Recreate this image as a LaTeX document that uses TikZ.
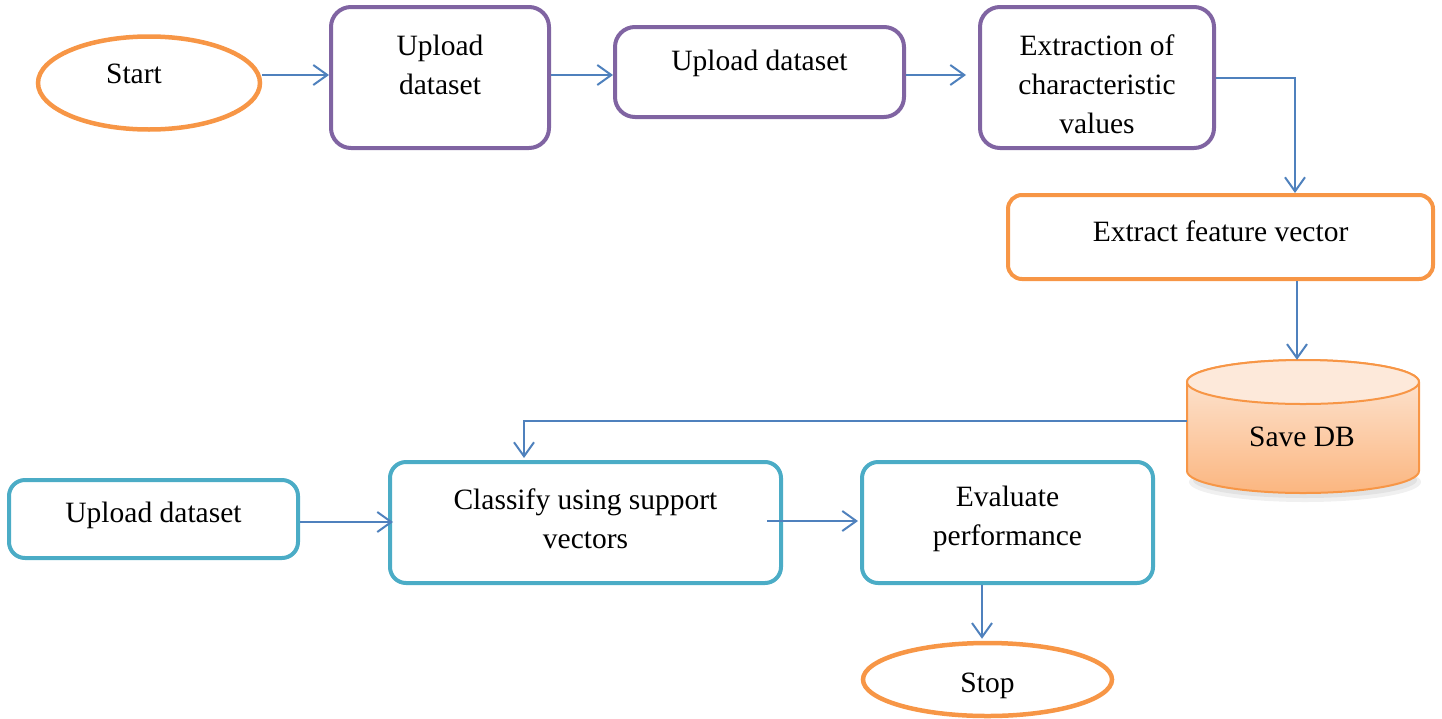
\documentclass[tikz,border=0pt]{standalone}
\usepackage{fontspec}
\setmainfont{Liberation Serif}
\usetikzlibrary{arrows.meta,shapes.geometric}
\definecolor{purp}{HTML}{8064A2}
\definecolor{orng}{HTML}{F79646}
\definecolor{tealb}{HTML}{4BACC6}
\definecolor{arrc}{HTML}{4F81BD}
\definecolor{dbtop}{HTML}{FDE9DA}
\definecolor{dbbot}{HTML}{FBB680}
\begin{document}
\begin{tikzpicture}[x=1pt,y=-1pt,
  txt/.style={font=\fontsize{29.5}{39}\selectfont, align=center, inner sep=0pt, text=black},
  pbox/.style={draw=purp, line width=4pt, rounded corners=20pt, inner sep=0pt},
  obox/.style={draw=orng, line width=4pt, rounded corners=14pt, inner sep=0pt},
  tbox/.style={draw=tealb, line width=4pt, rounded corners=16pt, inner sep=0pt},
  oval/.style={draw=orng, line width=4.5pt, ellipse, inner sep=0pt},
  flow/.style={draw=arrc, line width=2pt, -{Straight Barb[length=14pt,width=20pt,line width=2pt]}}]
\useasboundingbox (0,0) rectangle (1442,718);

% top row
\node[oval, minimum width=222pt, minimum height=93pt,
  label={[txt,xshift=-15pt,yshift=9.5pt]center:Start}] (start) at (149,83) {};
\node[pbox, minimum width=218pt, minimum height=141pt,
  label={[txt,yshift=13pt]center:Upload\\dataset}] (b1) at (440,77.5) {};
\node[pbox, minimum width=289pt, minimum height=90pt,
  label={[txt,yshift=9pt]center:Upload dataset}] (b2) at (759.5,72) {};
\node[pbox, minimum width=234pt, minimum height=141pt,
  label={[txt,yshift=-6.5pt]center:Extraction of\\characteristic\\values}] (b3) at (1097,77.5) {};

% feature box
\node[obox, minimum width=425pt, minimum height=84pt,
  label={[txt,yshift=5.5pt]center:Extract feature vector}] (feat) at (1220.5,237) {};

% database cylinder
\node[minimum width=232pt, minimum height=133pt, inner sep=0pt] (db) at (1303,426.5) {};
\fill[black, opacity=0.06] (1305,482) ellipse[x radius=116pt, y radius=20pt];
\fill[black, opacity=0.06] (1305,480) ellipse[x radius=112pt, y radius=18pt];
\shade[top color=dbtop, bottom color=dbbot, draw=orng, line width=2pt]
  (1187,382) -- (1187,471) arc[start angle=180, end angle=360, x radius=116pt, y radius=22pt]
  -- (1419,382) arc[start angle=0, end angle=180, x radius=116pt, y radius=22pt] -- cycle;
\fill[dbtop] (1303,382) ellipse[x radius=116pt, y radius=22pt];
\draw[orng, line width=2pt] (1303,382) ellipse[x radius=116pt, y radius=22pt];
\node[txt] (dbt) at (1302,437) {Save DB};

% bottom row
\node[tbox, minimum width=289pt, minimum height=78pt,
  label={[txt,yshift=3.5pt]center:Upload dataset}] (up3) at (153.5,519) {};
\node[tbox, minimum width=391pt, minimum height=121pt,
  label={[txt,yshift=3.5pt]center:Classify using support\\vectors}] (cls) at (585.5,522.5) {};
\node[tbox, minimum width=291pt, minimum height=121pt,
  label={[txt,yshift=3.5pt]center:Evaluate\\performance}] (eval) at (1007.5,522.5) {};
\node[oval, minimum width=249pt, minimum height=73pt,
  label={[txt,yshift=-6.5pt]center:Stop}] (stop) at (987.5,679.5) {};

% connectors
\coordinate (a1) at ([yshift=8pt]start.east);
\draw[flow] (a1) -- (a1 -| b1.west);
\coordinate (a2) at ([yshift=2.5pt]b1.east);
\draw[flow] (a2) -- (a2 -| b2.west);
\coordinate (a3) at ([yshift=-3pt]b2.east);
\coordinate (a3e) at ([xshift=-12pt]b3.west);
\draw[flow] (a3) -- (a3 -| a3e);
\draw[flow] (b3.east) -| ([xshift=74.5pt]feat.north);
\coordinate (a5) at ([xshift=76.5pt]feat.south);
\draw[flow] (a5) -- (a5 |- db.north);
\draw[flow] ([yshift=5.5pt]db.west) -| ([xshift=-61.5pt,yshift=2pt]cls.north);
\coordinate (a7) at ([yshift=-3pt]up3.east);
\draw[flow] (a7) -- ([xshift=5pt]a7 -| cls.west);
\coordinate (a8) at ([xshift=-16pt,yshift=1.5pt]cls.east);
\draw[flow] (a8) -- ([xshift=-2pt]a8 -| eval.west);
\coordinate (a9) at ([xshift=-25.5pt]eval.south);
\draw[flow] (a9) -- ([yshift=2pt]a9 |- stop.north);
\end{tikzpicture}
\end{document}
